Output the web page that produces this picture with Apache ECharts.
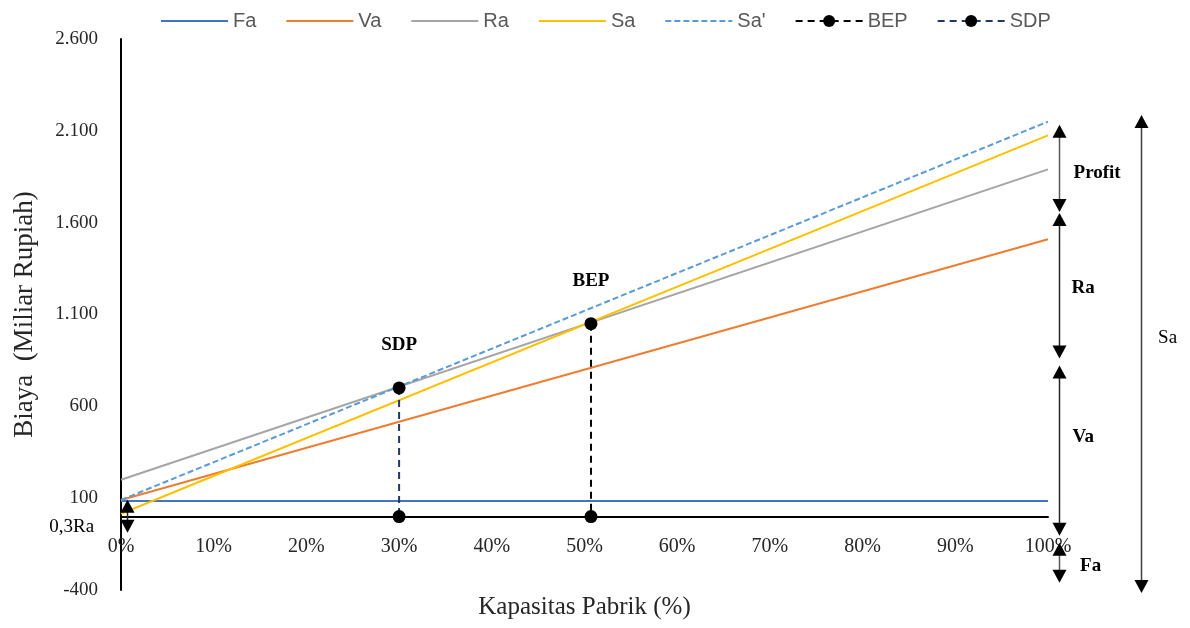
<!DOCTYPE html>
<html>
<head>
<meta charset="utf-8">
<title>Break Even Point</title>
<script src="https://cdn.jsdelivr.net/npm/echarts@6/dist/echarts.min.js"></script>
<style>
  html, body { margin: 0; padding: 0; background: #fff; }
  #chart { width: 1190px; height: 628px; }
</style>
</head>
<body>
<div id="chart"></div>
<script>
// Capacity range (percent) used by every cost/revenue line
const capacity = [0, 100];

// Cost and sales lines, values in billion rupiah at 0% and 100% capacity
const fa = [85, 85];          // fixed cost
const va = [90, 1510];        // variable cost
const ra = [200, 1890];       // regulated cost
const sa = [15, 2075];        // sales
const saPrime = [90, 2150];   // sales (alternative)

// Break-even point and shut-down point: [capacity %, cost]
const bep = [50.7, 1050];
const sdp = [30, 700];

// Axis ticks
const yMin = -400, yMax = 2600, yStep = 500;
const xTicks = [0, 10, 20, 30, 40, 50, 60, 70, 80, 90, 100];

const serif = '"Liberation Serif", "Times New Roman", serif';

function pairs(ys) { return capacity.map((x, i) => [x, ys[i]]); }

function dropLine(pt, label) {
  return [
    { value: pt, label: { show: true, formatter: label, position: 'top', distance: 27,
        fontFamily: serif, fontWeight: 'bold', fontSize: 19, color: '#000' } },
    { value: [pt[0], 0] }
  ];
}

function fmtThousands(v) {
  const s = String(Math.abs(v)).replace(/\B(?=(\d{3})+(?!\d))/g, '.');
  return (v < 0 ? '-' : '') + s;
}

const chart = echarts.init(document.getElementById('chart'));

// plain lines show no marker in the legend
const noMarker = { opacity: 0 };

const option = {
  animation: false,
  backgroundColor: '#fff',
  grid: { left: 121, right: 142, top: 39, bottom: 38, containLabel: false, outerBoundsMode: 'none' },
  legend: {
    left: 155, top: 6,
    itemWidth: 67, itemHeight: 15, itemGap: 29,
    textStyle: { fontFamily: '"Liberation Sans Narrow", "Liberation Sans", sans-serif', fontSize: 20, color: '#595959' },
    data: [
      { name: 'Fa', itemStyle: noMarker },
      { name: 'Va', itemStyle: noMarker },
      { name: 'Ra', itemStyle: noMarker },
      { name: 'Sa', itemStyle: noMarker },
      { name: "Sa'", itemStyle: noMarker },
      { name: 'BEP' },
      { name: 'SDP' }
    ]
  },
  xAxis: {
    type: 'value', min: xTicks[0], max: xTicks[xTicks.length - 1], interval: 10,
    name: 'Kapasitas Pabrik (%)', nameLocation: 'middle', nameGap: 5,
    nameTextStyle: { fontFamily: serif, fontSize: 25, color: '#262626' },
    axisLine: { onZero: true, lineStyle: { color: '#000', width: 2 } },
    axisTick: { show: false },
    splitLine: { show: false },
    // tick labels sit just under the zero line
    axisLabel: { margin: -53, formatter: '{value}%', fontFamily: serif, fontSize: 20, color: '#262626' }
  },
  yAxis: {
    type: 'value', min: yMin, max: yMax, interval: yStep,
    name: 'Biaya  (Miliar Rupiah)', nameLocation: 'middle', nameGap: 83,
    nameTextStyle: { fontFamily: serif, fontSize: 27, color: '#262626' },
    axisLine: { show: true, onZero: false, lineStyle: { color: '#000', width: 2 } },
    axisTick: { show: false },
    splitLine: { show: false },
    axisLabel: { margin: 23, formatter: fmtThousands, fontFamily: serif, fontSize: 19, color: '#262626' }
  },
  series: [
    { name: 'Fa', type: 'line', data: pairs(fa), symbol: 'none', lineStyle: { color: '#4472C4', width: 2 }, itemStyle: { color: '#4472C4' } },
    { name: 'Va', type: 'line', data: pairs(va), symbol: 'none', lineStyle: { color: '#ED7D31', width: 2 }, itemStyle: { color: '#ED7D31' } },
    { name: 'Ra', type: 'line', data: pairs(ra), symbol: 'none', lineStyle: { color: '#A5A5A5', width: 2 }, itemStyle: { color: '#A5A5A5' } },
    { name: 'Sa', type: 'line', data: pairs(sa), symbol: 'none', lineStyle: { color: '#FFC000', width: 2 }, itemStyle: { color: '#FFC000' } },
    { name: "Sa'", type: 'line', data: pairs(saPrime), symbol: 'none', lineStyle: { color: '#5B9BD5', width: 2, type: [6, 3] }, itemStyle: { color: '#5B9BD5' } },
    { name: 'BEP', type: 'line', data: dropLine(bep, 'BEP'), symbol: 'circle', symbolSize: 13,
      lineStyle: { color: '#000', width: 2, type: [7, 5] }, itemStyle: { color: '#000' }, z: 5 },
    { name: 'SDP', type: 'line', data: dropLine(sdp, 'SDP'), symbol: 'circle', symbolSize: 13,
      lineStyle: { color: '#203864', width: 2, type: [7, 5] }, itemStyle: { color: '#000' }, z: 5 }
  ]
};

chart.setOption(option);

// Bracket arrows explaining the cost components, placed in data coordinates
const brackets = [
  { x: 101.2, from: 2133, to: 1658, color: '#595959' },   // Profit
  { x: 101.2, from: 1652, to: 861, color: '#262626' },    // Ra
  { x: 101.2, from: 823, to: -105, color: '#262626' },    // Va
  { x: 101.2, from: -143, to: -361, color: '#595959' },   // Fa
  { x: 110.0, from: 2186, to: -416, color: '#404040' },   // Sa
  { x: 0.65, from: 92, to: -88, color: '#262626' }        // 0,3Ra
];
const notes = [
  { text: 'Profit', x: 105.3, y: 1870, bold: true, align: 'center' },
  { text: 'Ra', x: 103.8, y: 1243, bold: true, align: 'center' },
  { text: 'Va', x: 103.8, y: 430, bold: true, align: 'center' },
  { text: 'Fa', x: 104.6, y: -268, bold: true, align: 'center' },
  { text: 'Sa', x: 112.9, y: 971, bold: false, align: 'center' },
  { text: '0,3Ra', x: -2.9, y: -56, bold: false, align: 'right' }
];

function px(x, y) { return chart.convertToPixel({ gridIndex: 0 }, [x, y]); }

const elements = [];
brackets.forEach(b => {
  const a = px(b.x, b.from), c = px(b.x, b.to);
  const x = Math.round(a[0]) + 0.5, top = a[1], bot = c[1], h = 13, hw = 7;
  elements.push(
    { type: 'line', z: 10, shape: { x1: x, y1: top + h - 1, x2: x, y2: bot - h + 1 }, style: { stroke: b.color, lineWidth: 1.5 } },
    { type: 'polygon', z: 10, shape: { points: [[x, top], [x - hw, top + h], [x + hw, top + h]] }, style: { fill: '#000' } },
    { type: 'polygon', z: 10, shape: { points: [[x, bot], [x - hw, bot - h], [x + hw, bot - h]] }, style: { fill: '#000' } }
  );
});
notes.forEach(n => {
  const p = px(n.x, n.y);
  elements.push({
    type: 'text', z: 11, x: p[0], y: p[1],
    style: {
      text: n.text, fill: '#000', align: n.align, verticalAlign: 'middle',
      fontFamily: serif, fontSize: 19, fontWeight: n.bold ? 'bold' : 'normal'
    }
  });
});

chart.setOption({ graphic: { elements: elements } });
</script>
</body>
</html>
